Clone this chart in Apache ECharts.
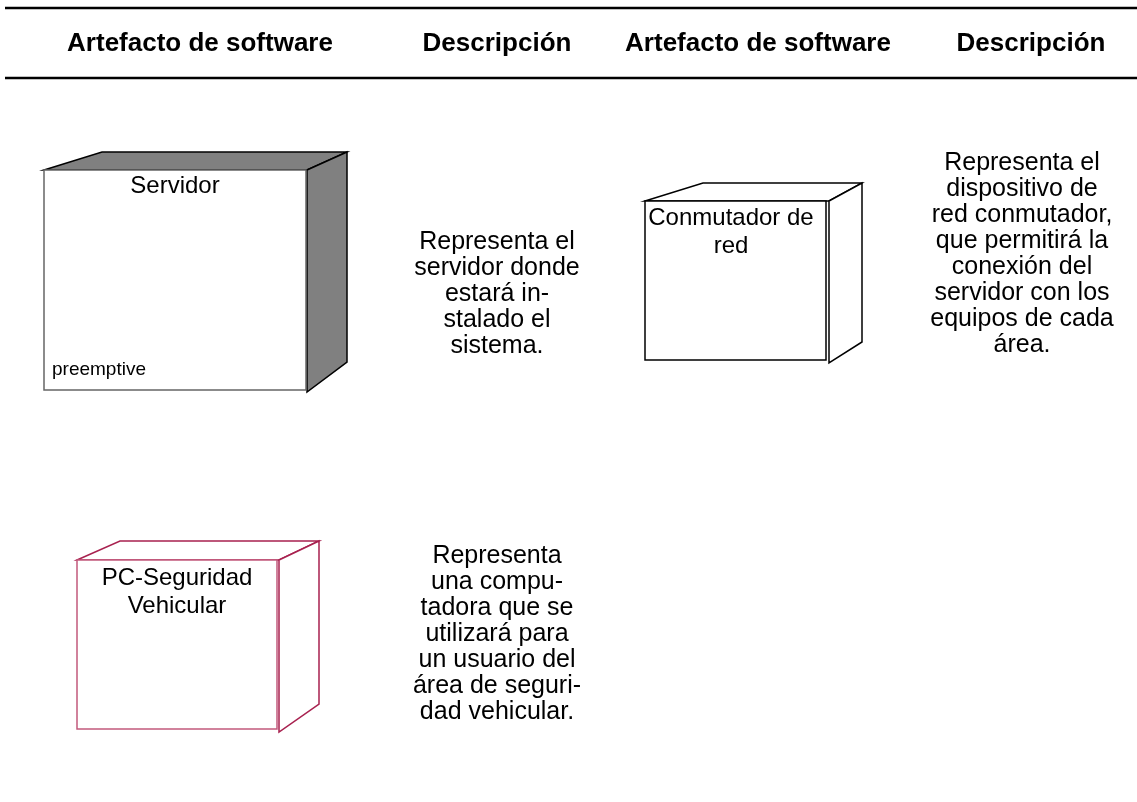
<!DOCTYPE html>
<html>
<head>
<meta charset="utf-8">
<script src="https://cdn.jsdelivr.net/npm/echarts@6/dist/echarts.min.js"></script>
<style>html,body{margin:0;padding:0;background:#fff}#c{width:1137px;height:802px}</style>
</head>
<body>
<div id="c"></div>
<script>
// ---- content ----
const headers = ['Artefacto de software', 'Descripción', 'Artefacto de software', 'Descripción'];
const nodeNames = ['Servidor', 'Conmutador de\nred', 'PC-Seguridad\nVehicular'];
const nodeStereotypes = ['preemptive', '', ''];
const descriptions = [
  'Representa el\nservidor donde\nestará in-\nstalado el\nsistema.',
  'Representa el\ndispositivo de\nred conmutador,\nque permitirá la\nconexión del\nservidor con los\nequipos de cada\nárea.',
  'Representa\nuna compu-\ntadora que se\nutilizará para\nun usuario del\nárea de seguri-\ndad vehicular.'
];

// ---- layout (axis units = page pixels) ----
const W = 1137, H = 802;
const headerX = [200, 497, 758, 1031];
const headerY = 44;
const ruleY = [8, 78];
const boxGeom = [
  {f: [44, 170, 306, 390], btl: 102, br: 347, bt: 152, bb: 362, sb: 392, sideL: 307},
  {f: [645, 201, 826, 360], btl: 703, br: 862, bt: 183, bb: 342, sb: 363, sideL: 829},
  {f: [77, 560, 277, 729], btl: 120, br: 319, bt: 541, bb: 704, sb: 732, sideL: 279}
];
const boxStyle = [
  {face: '#808080', edge: '#000', front: '#666', text: '#000'},
  {face: '#fff', edge: '#000', front: '#000', text: '#000'},
  {face: '#fff', edge: '#a8214f', front: '#c25a7c', text: '#000'}
];
// centre of first text line
const labelPos = [[175, 186], [731, 218], [177, 578]];
const stereoPos = [[52, 370]];
const descPos = [[497, 242], [1022, 163], [497, 556]];
const FONT = '"Liberation Sans", Arial, sans-serif';
const LABEL_LH = 28, DESC_LH = 26;

const chart = echarts.init(document.getElementById('c'));

function boxItem(params, api) {
  const i = params.dataIndex;
  const g = boxGeom[i], s = boxStyle[i];
  const c = (x, y) => api.coord([x, y]);
  const [x0, y0, x1, y1] = g.f;
  const children = [];
  children.push({type: 'polygon', shape: {points: [c(x0, y0), c(g.btl, g.bt), c(g.br, g.bt), c(g.sideL, y0)]},
    style: {fill: s.face, stroke: s.edge, lineWidth: 1.5}});
  children.push({type: 'polygon', shape: {points: [c(g.sideL, y0), c(g.br, g.bt), c(g.br, g.bb), c(g.sideL, g.sb)]},
    style: {fill: s.face, stroke: s.edge, lineWidth: 1.5}});
  const a = c(x0, y0), b = c(x1, y1);
  children.push({type: 'rect', shape: {x: a[0], y: a[1], width: b[0] - a[0], height: b[1] - a[1]},
    style: {fill: '#fff', stroke: s.front, lineWidth: 1.5}});
  const lp = c(labelPos[i][0], labelPos[i][1]);
  children.push({type: 'text', x: lp[0], y: lp[1] - LABEL_LH / 2, style: {text: nodeNames[i], fill: s.text,
    font: '24px ' + FONT, align: 'center', verticalAlign: 'top', lineHeight: LABEL_LH}});
  if (nodeStereotypes[i]) {
    const sp = c(stereoPos[i][0], stereoPos[i][1]);
    children.push({type: 'text', x: sp[0], y: sp[1], style: {text: nodeStereotypes[i], fill: '#000',
      font: '19px ' + FONT, align: 'left', verticalAlign: 'middle'}});
  }
  return {type: 'group', children};
}

function headerItem(params, api) {
  const i = params.dataIndex;
  const p = api.coord([headerX[i], headerY]);
  return {type: 'text', x: p[0], y: p[1], style: {text: headers[i], fill: '#000',
    font: 'bold 26px ' + FONT, align: 'center', verticalAlign: 'middle'}};
}

function ruleItem(params, api) {
  const y = ruleY[params.dataIndex];
  const a = api.coord([5, y]), b = api.coord([W, y]);
  return {type: 'line', shape: {x1: a[0], y1: a[1], x2: b[0], y2: b[1]}, style: {stroke: '#000', lineWidth: 2.5}};
}

function descItem(params, api) {
  const i = params.dataIndex;
  const p = api.coord(descPos[i]);
  return {type: 'text', x: p[0], y: p[1] - DESC_LH / 2, style: {text: descriptions[i], fill: '#000',
    font: '25px ' + FONT, align: 'center', verticalAlign: 'top', lineHeight: DESC_LH}};
}

chart.setOption({
  animation: false,
  backgroundColor: '#fff',
  grid: {left: 0, right: 0, top: 0, bottom: 0},
  xAxis: {type: 'value', min: 0, max: W, show: false},
  yAxis: {type: 'value', min: 0, max: H, inverse: true, show: false},
  series: [
    {type: 'custom', coordinateSystem: 'cartesian2d', renderItem: ruleItem, data: ruleY.map((y, i) => [i, y]), silent: true},
    {type: 'custom', coordinateSystem: 'cartesian2d', renderItem: headerItem, data: headers.map((h, i) => [i, 0]), silent: true},
    {type: 'custom', coordinateSystem: 'cartesian2d', renderItem: boxItem, data: nodeNames.map((n, i) => [i, 0]), silent: true},
    {type: 'custom', coordinateSystem: 'cartesian2d', renderItem: descItem, data: descriptions.map((d, i) => [i, 0]), silent: true}
  ]
});
</script>
</body>
</html>
